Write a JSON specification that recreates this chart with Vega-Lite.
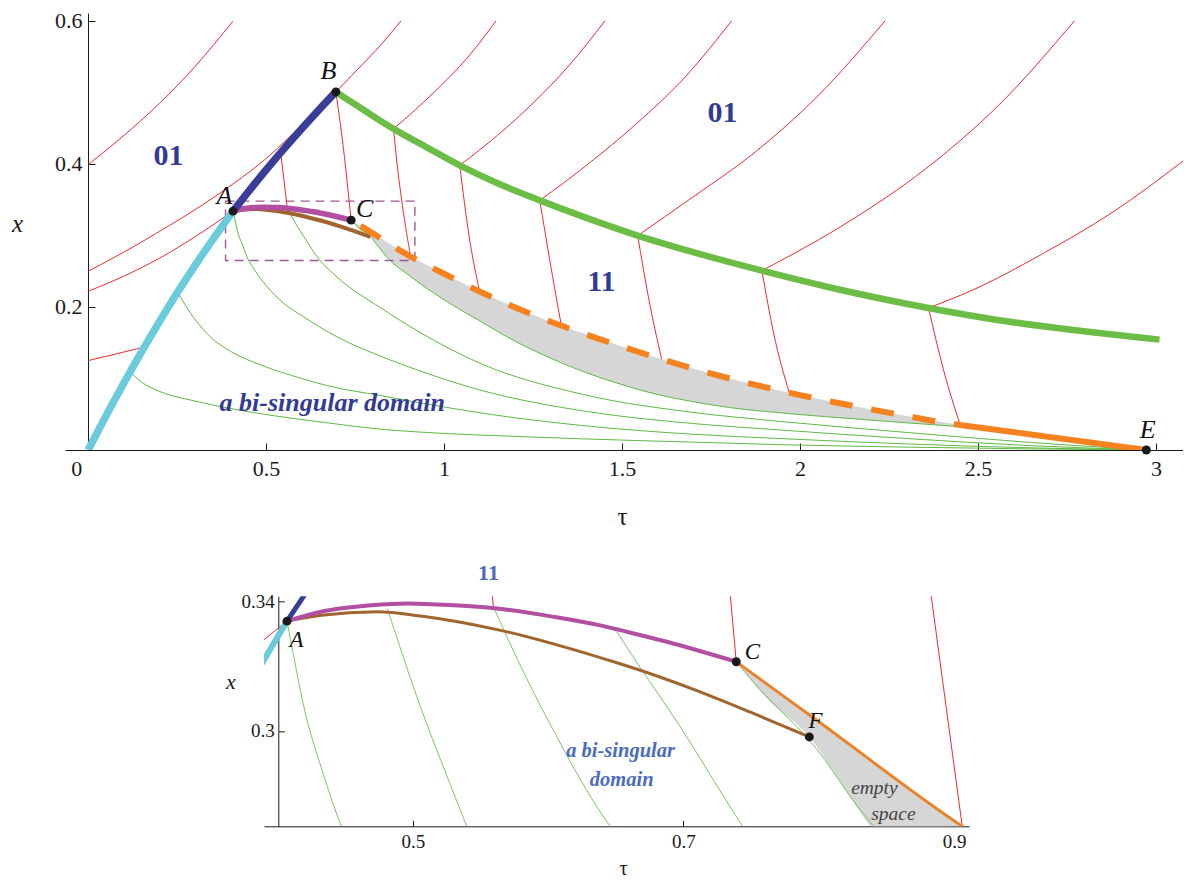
{
"$schema": "https://vega.github.io/schema/vega-lite/v6.json",
"background": "white",
"padding": {"left": 11, "top": 9, "right": 0, "bottom": 0},
"config": {
 "view": {"stroke": null},
 "axis": {"grid": false, "domainColor": "#1a1a1a", "tickColor": "#1a1a1a", "labelColor": "#1a1a1a", "titleColor": "#1a1a1a", "labelFont": "Liberation Serif, Times New Roman, serif", "titleFont": "Liberation Serif, Times New Roman, serif", "titleFontWeight": "normal", "labelFlush": false, "labelOverlap": false, "tickWidth": 1, "domainWidth": 1, "format": "~g"},
 "text": {"font": "Liberation Serif, Times New Roman, serif"},
 "line": {"interpolate": "monotone"},
 "area": {"interpolate": "monotone"}
},
"datasets": {
 "curves": [
  {"c":"cy","k":"cy","t":0,"x":0},{"c":"cy","k":"cy","t":0.05,"x":0.0476},{"c":"cy","k":"cy","t":0.1,"x":0.0933},{"c":"cy","k":"cy","t":0.15,"x":0.1372},{"c":"cy","k":"cy","t":0.2,"x":0.1792},{"c":"cy","k":"cy","t":0.25,"x":0.2194},{"c":"cy","k":"cy","t":0.3,"x":0.2577},{"c":"cy","k":"cy","t":0.35,"x":0.2942},{"c":"cy","k":"cy","t":0.39,"x":0.322},{"c":"cy","k":"cy","t":0.407,"x":0.334},
  {"c":"bl","k":"bl","t":0.407,"x":0.334},{"c":"bl","k":"bl","t":0.45,"x":0.3611},{"c":"bl","k":"bl","t":0.5,"x":0.3916},{"c":"bl","k":"bl","t":0.55,"x":0.421},{"c":"bl","k":"bl","t":0.6,"x":0.4493},{"c":"bl","k":"bl","t":0.65,"x":0.4765},{"c":"bl","k":"bl","t":0.696,"x":0.5006},
  {"c":"gt","k":"gt","t":0.696,"x":0.5006},{"c":"gt","k":"gt","t":0.78,"x":0.4735},{"c":"gt","k":"gt","t":0.858,"x":0.449},{"c":"gt","k":"gt","t":0.95,"x":0.4235},{"c":"gt","k":"gt","t":1.044,"x":0.398},{"c":"gt","k":"gt","t":1.15,"x":0.373},{"c":"gt","k":"gt","t":1.269,"x":0.349},{"c":"gt","k":"gt","t":1.4,"x":0.3245},{"c":"gt","k":"gt","t":1.544,"x":0.2997},{"c":"gt","k":"gt","t":1.7,"x":0.2765},{"c":"gt","k":"gt","t":1.893,"x":0.2508},{"c":"gt","k":"gt","t":2.1,"x":0.2255},{"c":"gt","k":"gt","t":2.361,"x":0.1986},{"c":"gt","k":"gt","t":2.55,"x":0.1822},{"c":"gt","k":"gt","t":2.75,"x":0.1688},{"c":"gt","k":"gt","t":3.01,"x":0.1543},
  {"c":"mg","k":"mg","t":0.407,"x":0.334},{"c":"mg","k":"mg","t":0.4323,"x":0.3369},{"c":"mg","k":"mg","t":0.4692,"x":0.3389},{"c":"mg","k":"mg","t":0.4963,"x":0.3395},{"c":"mg","k":"mg","t":0.5308,"x":0.3389},{"c":"mg","k":"mg","t":0.5603,"x":0.338},{"c":"mg","k":"mg","t":0.6046,"x":0.3353},{"c":"mg","k":"mg","t":0.6384,"x":0.3327},{"c":"mg","k":"mg","t":0.6532,"x":0.3312},{"c":"mg","k":"mg","t":0.6877,"x":0.3276},{"c":"mg","k":"mg","t":0.739,"x":0.3214},
  {"c":"br","k":"br","t":0.407,"x":0.334},{"c":"br","k":"br","t":0.4323,"x":0.3358},{"c":"br","k":"br","t":0.4737,"x":0.3369},{"c":"br","k":"br","t":0.5057,"x":0.3356},{"c":"br","k":"br","t":0.5673,"x":0.3309},{"c":"br","k":"br","t":0.6384,"x":0.3227},{"c":"br","k":"br","t":0.6532,"x":0.3208},{"c":"br","k":"br","t":0.7123,"x":0.3121},{"c":"br","k":"br","t":0.75,"x":0.3057},{"c":"br","k":"br","t":0.793,"x":0.2981},
  {"c":"or","k":"or","t":0.739,"x":0.3214},{"c":"or","k":"or","t":0.8,"x":0.3028},{"c":"or","k":"or","t":0.906,"x":0.2704},{"c":"or","k":"or","t":1.0,"x":0.2465},{"c":"or","k":"or","t":1.1,"x":0.2215},{"c":"or","k":"or","t":1.2,"x":0.1993},{"c":"or","k":"or","t":1.3,"x":0.1793},{"c":"or","k":"or","t":1.4,"x":0.1614},{"c":"or","k":"or","t":1.5,"x":0.1446},{"c":"or","k":"or","t":1.6,"x":0.1286},{"c":"or","k":"or","t":1.7,"x":0.1138},{"c":"or","k":"or","t":1.8,"x":0.1003},{"c":"or","k":"or","t":1.9,"x":0.088},{"c":"or","k":"or","t":2.0,"x":0.0767},{"c":"or","k":"or","t":2.1,"x":0.0664},{"c":"or","k":"or","t":2.2,"x":0.0568},{"c":"or","k":"or","t":2.3,"x":0.0475},{"c":"or","k":"or","t":2.4,"x":0.0385},{"c":"or","k":"or","t":2.45,"x":0.035},
  {"c":"os","k":"os","t":2.45,"x":0.035},{"c":"os","k":"os","t":2.973,"x":0},
  {"c":"r1","k":"red","t":0,"x":0.399},{"c":"r1","k":"red","t":0.109,"x":0.4434},{"c":"r1","k":"red","t":0.2,"x":0.4845},{"c":"r1","k":"red","t":0.3,"x":0.536},{"c":"r1","k":"red","t":0.4066,"x":0.5995},
  {"c":"r2","k":"red","t":0,"x":0.25},{"c":"r2","k":"red","t":0.1,"x":0.2765},{"c":"r2","k":"red","t":0.2,"x":0.3055},{"c":"r2","k":"red","t":0.3155,"x":0.3408},{"c":"r2","k":"red","t":0.407,"x":0.372},{"c":"r2","k":"red","t":0.5,"x":0.4075},{"c":"r2","k":"red","t":0.578,"x":0.4434},{"c":"r2","k":"red","t":0.65,"x":0.4775},{"c":"r2","k":"red","t":0.696,"x":0.5006},{"c":"r2","k":"red","t":0.75,"x":0.5285},{"c":"r2","k":"red","t":0.827,"x":0.569},{"c":"r2","k":"red","t":0.879,"x":0.6},
  {"c":"r3","k":"red","t":0,"x":0.2219},{"c":"r3","k":"red","t":0.1,"x":0.243},{"c":"r3","k":"red","t":0.2,"x":0.268},{"c":"r3","k":"red","t":0.3,"x":0.298},{"c":"r3","k":"red","t":0.407,"x":0.334},
  {"c":"r4","k":"red","t":0,"x":0.125},{"c":"r4","k":"red","t":0.08,"x":0.1345},{"c":"r4","k":"red","t":0.158,"x":0.144},
  {"c":"rs1","k":"red","t":0.541,"x":0.4158},{"c":"rs1","k":"red","t":0.55,"x":0.378},{"c":"rs1","k":"red","t":0.5596,"x":0.3381},
  {"c":"rs2","k":"red","t":0.696,"x":0.5006},{"c":"rs2","k":"red","t":0.72,"x":0.41},{"c":"rs2","k":"red","t":0.7346,"x":0.342},{"c":"rs2","k":"red","t":0.739,"x":0.3214},
  {"c":"rs3","k":"red","t":0.858,"x":0.449},{"c":"rs3","k":"red","t":0.868,"x":0.4},{"c":"rs3","k":"red","t":0.883,"x":0.342},{"c":"rs3","k":"red","t":0.906,"x":0.2704},
  {"c":"rs4","k":"red","t":1.044,"x":0.398},{"c":"rs4","k":"red","t":1.07,"x":0.3},{"c":"rs4","k":"red","t":1.1,"x":0.2215},
  {"c":"rs5","k":"red","t":1.269,"x":0.349},{"c":"rs5","k":"red","t":1.2967,"x":0.2662},{"c":"rs5","k":"red","t":1.3296,"x":0.1735},
  {"c":"rs6","k":"red","t":1.544,"x":0.2997},{"c":"rs6","k":"red","t":1.5737,"x":0.2149},{"c":"rs6","k":"red","t":1.6113,"x":0.1268},
  {"c":"rs7","k":"red","t":1.893,"x":0.2508},{"c":"rs7","k":"red","t":1.9258,"x":0.1636},{"c":"rs7","k":"red","t":1.9699,"x":0.0798},
  {"c":"rs8","k":"red","t":2.361,"x":0.1986},{"c":"rs8","k":"red","t":2.403,"x":0.1123},{"c":"rs8","k":"red","t":2.45,"x":0.035},
  {"c":"ru1","k":"red","t":0.858,"x":0.449},{"c":"ru1","k":"red","t":0.92,"x":0.476},{"c":"ru1","k":"red","t":0.99,"x":0.509},{"c":"ru1","k":"red","t":1.07,"x":0.551},{"c":"ru1","k":"red","t":1.146,"x":0.6},
  {"c":"ru2","k":"red","t":1.044,"x":0.398},{"c":"ru2","k":"red","t":1.15,"x":0.44},{"c":"ru2","k":"red","t":1.25,"x":0.485},{"c":"ru2","k":"red","t":1.35,"x":0.537},{"c":"ru2","k":"red","t":1.452,"x":0.6},
  {"c":"ru3","k":"red","t":1.269,"x":0.349},{"c":"ru3","k":"red","t":1.4,"x":0.398},{"c":"ru3","k":"red","t":1.54,"x":0.456},{"c":"ru3","k":"red","t":1.68,"x":0.523},{"c":"ru3","k":"red","t":1.808,"x":0.6},
  {"c":"ru4","k":"red","t":1.544,"x":0.2997},{"c":"ru4","k":"red","t":1.7,"x":0.354},{"c":"ru4","k":"red","t":1.865,"x":0.413},{"c":"ru4","k":"red","t":2.05,"x":0.495},{"c":"ru4","k":"red","t":2.239,"x":0.6},
  {"c":"ru5","k":"red","t":1.893,"x":0.2508},{"c":"ru5","k":"red","t":2.146,"x":0.322},{"c":"ru5","k":"red","t":2.35,"x":0.392},{"c":"ru5","k":"red","t":2.56,"x":0.483},{"c":"ru5","k":"red","t":2.771,"x":0.6},
  {"c":"ru6","k":"red","t":2.361,"x":0.1986},{"c":"ru6","k":"red","t":2.5,"x":0.227},{"c":"ru6","k":"red","t":2.68,"x":0.274},{"c":"ru6","k":"red","t":2.88,"x":0.333},{"c":"ru6","k":"red","t":3.076,"x":0.404},
  {"c":"g1","k":"gn","t":0.118,"x":0.1093},{"c":"g1","k":"gn","t":0.15,"x":0.095},{"c":"g1","k":"gn","t":0.2,"x":0.082},{"c":"g1","k":"gn","t":0.3,"x":0.0685},{"c":"g1","k":"gn","t":0.4,"x":0.058},{"c":"g1","k":"gn","t":0.5,"x":0.0495},{"c":"g1","k":"gn","t":0.672,"x":0.038},{"c":"g1","k":"gn","t":0.8225,"x":0.029},{"c":"g1","k":"gn","t":0.935,"x":0.025},{"c":"g1","k":"gn","t":1.2,"x":0.019},{"c":"g1","k":"gn","t":1.392,"x":0.0155},{"c":"g1","k":"gn","t":1.7,"x":0.011},{"c":"g1","k":"gn","t":1.944,"x":0.0075},{"c":"g1","k":"gn","t":2.3,"x":0.004},{"c":"g1","k":"gn","t":2.65,"x":0.0015},{"c":"g1","k":"gn","t":2.973,"x":0},
  {"c":"g2","k":"gn","t":0.2516,"x":0.2206},{"c":"g2","k":"gn","t":0.28,"x":0.197},{"c":"g2","k":"gn","t":0.3437,"x":0.158},{"c":"g2","k":"gn","t":0.4,"x":0.138},{"c":"g2","k":"gn","t":0.4845,"x":0.119},{"c":"g2","k":"gn","t":0.6,"x":0.1},{"c":"g2","k":"gn","t":0.672,"x":0.09},{"c":"g2","k":"gn","t":0.8225,"x":0.076},{"c":"g2","k":"gn","t":0.935,"x":0.0657},{"c":"g2","k":"gn","t":1.2,"x":0.045},{"c":"g2","k":"gn","t":1.392,"x":0.034},{"c":"g2","k":"gn","t":1.7,"x":0.022},{"c":"g2","k":"gn","t":1.944,"x":0.016},{"c":"g2","k":"gn","t":2.3,"x":0.0085},{"c":"g2","k":"gn","t":2.65,"x":0.003},{"c":"g2","k":"gn","t":2.973,"x":0},
  {"c":"g3","k":"gn","t":0.407,"x":0.334},{"c":"g3","k":"gn","t":0.4146,"x":0.3172},{"c":"g3","k":"gn","t":0.422,"x":0.3017},{"c":"g3","k":"gn","t":0.4343,"x":0.2862},{"c":"g3","k":"gn","t":0.4456,"x":0.2707},{"c":"g3","k":"gn","t":0.47,"x":0.25},{"c":"g3","k":"gn","t":0.5,"x":0.23},{"c":"g3","k":"gn","t":0.55,"x":0.205},{"c":"g3","k":"gn","t":0.6,"x":0.188},{"c":"g3","k":"gn","t":0.7,"x":0.158},{"c":"g3","k":"gn","t":0.8225,"x":0.131},{"c":"g3","k":"gn","t":0.935,"x":0.11},{"c":"g3","k":"gn","t":1.1,"x":0.084},{"c":"g3","k":"gn","t":1.392,"x":0.0545},{"c":"g3","k":"gn","t":1.7,"x":0.037},{"c":"g3","k":"gn","t":1.944,"x":0.028},{"c":"g3","k":"gn","t":2.3,"x":0.016},{"c":"g3","k":"gn","t":2.65,"x":0.006},{"c":"g3","k":"gn","t":2.973,"x":0},
  {"c":"g4","k":"gn","t":0.5599,"x":0.3381},{"c":"g4","k":"gn","t":0.5825,"x":0.317},{"c":"g4","k":"gn","t":0.6115,"x":0.294},{"c":"g4","k":"gn","t":0.6424,"x":0.2707},{"c":"g4","k":"gn","t":0.7,"x":0.2415},{"c":"g4","k":"gn","t":0.8225,"x":0.1986},{"c":"g4","k":"gn","t":0.935,"x":0.1636},{"c":"g4","k":"gn","t":1.1,"x":0.1215},{"c":"g4","k":"gn","t":1.392,"x":0.0775},{"c":"g4","k":"gn","t":1.7,"x":0.0525},{"c":"g4","k":"gn","t":1.944,"x":0.04},{"c":"g4","k":"gn","t":2.3,"x":0.0245},{"c":"g4","k":"gn","t":2.65,"x":0.0105},{"c":"g4","k":"gn","t":2.973,"x":0},
  {"c":"g5","k":"gn","t":0.739,"x":0.3214},{"c":"g5","k":"gn","t":0.7616,"x":0.31},{"c":"g5","k":"gn","t":0.793,"x":0.2981},{"c":"g5","k":"gn","t":0.8158,"x":0.2842},{"c":"g5","k":"gn","t":0.838,"x":0.2704},{"c":"g5","k":"gn","t":0.906,"x":0.2425},{"c":"g5","k":"gn","t":1.0,"x":0.21},{"c":"g5","k":"gn","t":1.1,"x":0.1805},{"c":"g5","k":"gn","t":1.2,"x":0.152},{"c":"g5","k":"gn","t":1.3,"x":0.1283},{"c":"g5","k":"gn","t":1.4,"x":0.108},{"c":"g5","k":"gn","t":1.5,"x":0.0914},{"c":"g5","k":"gn","t":1.6,"x":0.0775},{"c":"g5","k":"gn","t":1.7,"x":0.0675},{"c":"g5","k":"gn","t":1.8,"x":0.0595},{"c":"g5","k":"gn","t":1.944,"x":0.052},{"c":"g5","k":"gn","t":2.1,"x":0.0455},{"c":"g5","k":"gn","t":2.3,"x":0.038},{"c":"g5","k":"gn","t":2.45,"x":0.0325},{"c":"g5","k":"gn","t":2.7,"x":0.0175},{"c":"g5","k":"gn","t":2.973,"x":0},
  {"c":"b2","k":"gb","t":0.4811,"x":0.3379},{"c":"b2","k":"gb","t":0.4933,"x":0.3224},{"c":"b2","k":"gb","t":0.5057,"x":0.3069},{"c":"b2","k":"gb","t":0.523,"x":0.2883},{"c":"b2","k":"gb","t":0.5395,"x":0.2707},{"c":"b2","k":"gb","t":0.544,"x":0.266},
  {"c":"b4","k":"gb","t":0.6508,"x":0.3307},{"c":"b4","k":"gb","t":0.6715,"x":0.3172},{"c":"b4","k":"gb","t":0.6976,"x":0.3017},{"c":"b4","k":"gb","t":0.7197,"x":0.2862},{"c":"b4","k":"gb","t":0.7432,"x":0.2707},{"c":"b4","k":"gb","t":0.748,"x":0.2675}
 ],
 "gray": [
  {"t":0.739,"x":0.3214,"x2":0.3214},{"t":0.7616,"x":0.3145,"x2":0.31},{"t":0.793,"x":0.305,"x2":0.2981},{"t":0.8158,"x":0.298,"x2":0.2842},{"t":0.838,"x":0.2912,"x2":0.2704},{"t":0.906,"x":0.2704,"x2":0.2425},{"t":1.0,"x":0.2465,"x2":0.21},{"t":1.1,"x":0.2215,"x2":0.1805},{"t":1.2,"x":0.1993,"x2":0.152},{"t":1.3,"x":0.1793,"x2":0.1283},{"t":1.4,"x":0.1614,"x2":0.108},{"t":1.5,"x":0.1446,"x2":0.0914},{"t":1.6,"x":0.1286,"x2":0.0775},{"t":1.7,"x":0.1138,"x2":0.0675},{"t":1.8,"x":0.1003,"x2":0.0595},{"t":1.944,"x":0.083,"x2":0.052},{"t":2.1,"x":0.0664,"x2":0.0455},{"t":2.3,"x":0.0475,"x2":0.038},{"t":2.45,"x":0.035,"x2":0.0325}
 ],
 "box": [{"t":0.386,"t2":0.918,"x":0.348,"x2":0.265}],
 "pts": [
  {"p":"t","t":0.407,"x":0.334},{"p":"t","t":0.696,"x":0.5006},{"p":"t","t":0.739,"x":0.3214},{"p":"t","t":2.973,"x":0},
  {"p":"b","t":0.407,"x":0.334},{"p":"b","t":0.739,"x":0.3214},{"p":"b","t":0.793,"x":0.2981}
 ],
 "labels": [
  {"p":"t","g":"reg","s":"01","t":0.2256,"x":0.4112},
  {"p":"t","g":"reg","s":"01","t":1.782,"x":0.4713},
  {"p":"t","g":"reg","s":"11","t":1.442,"x":0.235},
  {"p":"t","g":"dom","s":"a bi-singular domain","t":0.686,"x":0.0657},
  {"p":"t","g":"pt","s":"A","t":0.383,"x":0.355},
  {"p":"t","g":"pt","s":"B","t":0.675,"x":0.53},
  {"p":"t","g":"pt","s":"C","t":0.777,"x":0.337},
  {"p":"t","g":"pt","s":"E","t":2.977,"x":0.028},
  {"p":"b","g":"pt","s":"A","t":0.414,"x":0.328},
  {"p":"b","g":"pt","s":"C","t":0.751,"x":0.3243},
  {"p":"b","g":"pt","s":"F","t":0.7975,"x":0.3029},
  {"p":"b","g":"reg","s":"11","t":0.5559,"x":0.3488},
  {"p":"b","g":"dom","s":"a bi-singular","t":0.6535,"x":0.2936},
  {"p":"b","g":"dom","s":"domain","t":0.6543,"x":0.2849},
  {"p":"b","g":"emp","s":"empty","t":0.8411,"x":0.2822},
  {"p":"b","g":"emp","s":"space","t":0.8551,"x":0.2741}
 ]
},
"bounds": "flush",
"spacing": 146.3,
"vconcat": [
 {
  "width": 1118, "height": 437,
  "encoding": {
   "x": {"field": "t", "type": "quantitative", "scale": {"domain": [-0.065, 3.076], "nice": false, "zero": false},
    "axis": {"values": [0, 0.5, 1, 1.5, 2, 2.5, 3], "title": "τ", "labelFontSize": 22, "tickSize": -7, "labelPadding": 15, "titleFontSize": 25, "titleX": 557, "titleY": 66, "titleBaseline": "middle", "titleAlign": "center", "labelOffset": {"condition": {"test": "datum.value == 0", "value": -12}, "value": 0}}},
   "y": {"field": "x", "type": "quantitative", "scale": {"domain": [0, 0.611], "nice": false, "zero": false},
    "axis": {"values": [0.2, 0.4, 0.6], "title": "x", "offset": -23, "tickSize": -7, "labelPadding": 13, "labelFontSize": 22, "titleAngle": 0, "titleX": -71, "titleY": 210, "titleFontStyle": "italic", "titleFontSize": 25, "titleBaseline": "middle", "titleAlign": "center"}}
  },
  "layer": [
   {"data": {"name": "gray"}, "mark": {"type": "area", "color": "#d6d6d6", "clip": true}, "encoding": {"y2": {"field": "x2"}}},
   {"data": {"name": "box"}, "mark": {"type": "rect", "filled": false, "stroke": "#9c5a90", "strokeWidth": 1.4, "strokeDash": [9, 6]}, "encoding": {"x2": {"field": "t2"}, "y2": {"field": "x2"}}},
   {"data": {"name": "curves"}, "transform": [{"filter": "datum.k == 'red'"}], "mark": {"type": "line", "color": "#ef2b2d", "strokeWidth": 1, "clip": true}, "encoding": {"detail": {"field": "c"}, "order": {"field": "t"}}},
   {"data": {"name": "curves"}, "transform": [{"filter": "datum.k == 'gn'"}], "mark": {"type": "line", "color": "#5fb844", "strokeWidth": 1, "clip": true}, "encoding": {"detail": {"field": "c"}, "order": {"field": "t"}}},
   {"data": {"name": "curves"}, "transform": [{"filter": "datum.k == 'cy'"}], "mark": {"type": "line", "color": "#6acbdc", "strokeWidth": 7.5, "clip": true}, "encoding": {"order": {"field": "t"}}},
   {"data": {"name": "curves"}, "transform": [{"filter": "datum.k == 'gt'"}], "mark": {"type": "line", "color": "#6bbd45", "strokeWidth": 6.5, "clip": true}, "encoding": {"order": {"field": "t"}}},
   {"data": {"name": "curves"}, "transform": [{"filter": "datum.k == 'br'"}], "mark": {"type": "line", "color": "#a0652f", "strokeWidth": 4, "clip": true}, "encoding": {"order": {"field": "t"}}},
   {"data": {"name": "curves"}, "transform": [{"filter": "datum.k == 'mg'"}], "mark": {"type": "line", "color": "#b24fa2", "strokeWidth": 5.5, "clip": true}, "encoding": {"order": {"field": "t"}}},
   {"data": {"name": "curves"}, "transform": [{"filter": "datum.k == 'bl'"}], "mark": {"type": "line", "color": "#383e98", "strokeWidth": 7.5, "clip": true}, "encoding": {"order": {"field": "t"}}},
   {"data": {"name": "curves"}, "transform": [{"filter": "datum.k == 'or'"}], "mark": {"type": "line", "color": "#f5821f", "strokeWidth": 6, "strokeDash": [23, 19], "strokeDashOffset": 31, "clip": true}, "encoding": {"order": {"field": "t"}}},
   {"data": {"name": "curves"}, "transform": [{"filter": "datum.k == 'os'"}], "mark": {"type": "line", "color": "#f5821f", "strokeWidth": 6, "clip": true}, "encoding": {"order": {"field": "t"}}},
   {"data": {"name": "pts"}, "transform": [{"filter": "datum.p == 't'"}], "mark": {"type": "circle", "color": "#1a1a1a", "size": 80, "opacity": 1}},
   {"data": {"name": "labels"}, "transform": [{"filter": "datum.p == 't' && datum.g == 'reg'"}], "mark": {"type": "text", "fontSize": 30, "fontWeight": "bold", "color": "#333a94", "baseline": "middle", "align": "center"}, "encoding": {"text": {"field": "s"}}},
   {"data": {"name": "labels"}, "transform": [{"filter": "datum.p == 't' && datum.g == 'dom'"}], "mark": {"type": "text", "fontSize": 26, "fontWeight": "bold", "fontStyle": "italic", "color": "#333a94", "baseline": "middle", "align": "center"}, "encoding": {"text": {"field": "s"}}},
   {"data": {"name": "labels"}, "transform": [{"filter": "datum.p == 't' && datum.g == 'pt'"}], "mark": {"type": "text", "fontSize": 26, "fontStyle": "italic", "color": "#111111", "baseline": "middle", "align": "center"}, "encoding": {"text": {"field": "s"}}}
  ]
 },
 {
  "bounds": "flush",
  "spacing": 0,
  "hconcat": [
   {"width": 198.7, "height": 230, "data": {"values": [{"a": 1}]}, "mark": {"type": "point", "opacity": 0}},
   {
    "width": 705, "height": 230,
    "encoding": {
     "x": {"field": "t", "type": "quantitative", "scale": {"domain": [0.39, 0.911], "nice": false, "zero": false},
      "axis": {"values": [0.5, 0.7, 0.9], "title": "τ", "labelFontSize": 19, "tickSize": -6, "labelPadding": 12, "titleFontSize": 20, "titleX": 359, "titleY": 42, "titleBaseline": "middle", "titleAlign": "center"}},
     "y": {"field": "x", "type": "quantitative", "scale": {"domain": [0.2704, 0.3417], "nice": false, "zero": false},
      "axis": {"values": [0.3, 0.34], "title": "x", "offset": -14.3, "tickSize": -6, "labelPadding": 10, "labelFontSize": 19, "titleAngle": 0, "titleX": -48, "titleY": 85, "titleFontStyle": "italic", "titleFontSize": 22, "titleBaseline": "middle", "titleAlign": "center"}}
    },
    "layer": [
     {"data": {"name": "gray"}, "mark": {"type": "area", "color": "#d6d6d6", "clip": true}, "encoding": {"y2": {"field": "x2"}}},
     {"data": {"name": "curves"}, "transform": [{"filter": "datum.k == 'red'"}], "mark": {"type": "line", "color": "#ef2b2d", "strokeWidth": 1, "clip": true, "interpolate": "linear"}, "encoding": {"detail": {"field": "c"}, "order": {"field": "t"}}},
     {"data": {"name": "curves"}, "transform": [{"filter": "datum.k == 'gn' || datum.k == 'gb'"}], "mark": {"type": "line", "color": "#6cc050", "strokeWidth": 0.9, "clip": true, "interpolate": "basis"}, "encoding": {"detail": {"field": "c"}, "order": {"field": "t"}}},
     {"data": {"name": "curves"}, "transform": [{"filter": "datum.k == 'cy'"}], "mark": {"type": "line", "color": "#6acbdc", "strokeWidth": 6, "clip": true}, "encoding": {"order": {"field": "t"}}},
     {"data": {"name": "curves"}, "transform": [{"filter": "datum.k == 'br'"}], "mark": {"type": "line", "color": "#a0652f", "strokeWidth": 3, "clip": true}, "encoding": {"order": {"field": "t"}}},
     {"data": {"name": "curves"}, "transform": [{"filter": "datum.k == 'mg'"}], "mark": {"type": "line", "color": "#b24fa2", "strokeWidth": 4, "clip": true}, "encoding": {"order": {"field": "t"}}},
     {"data": {"name": "curves"}, "transform": [{"filter": "datum.k == 'bl'"}], "mark": {"type": "line", "color": "#383e98", "strokeWidth": 5, "clip": true}, "encoding": {"order": {"field": "t"}}},
     {"data": {"name": "curves"}, "transform": [{"filter": "datum.k == 'or'"}], "mark": {"type": "line", "color": "#e8852a", "strokeWidth": 3, "clip": true}, "encoding": {"order": {"field": "t"}}},
     {"data": {"name": "pts"}, "transform": [{"filter": "datum.p == 'b'"}], "mark": {"type": "circle", "color": "#1a1a1a", "size": 80, "opacity": 1}},
     {"data": {"name": "labels"}, "transform": [{"filter": "datum.p == 'b' && datum.g == 'reg'"}], "mark": {"type": "text", "fontSize": 22, "fontWeight": "bold", "color": "#4b6bbf", "baseline": "middle", "align": "center"}, "encoding": {"text": {"field": "s"}}},
     {"data": {"name": "labels"}, "transform": [{"filter": "datum.p == 'b' && datum.g == 'dom'"}], "mark": {"type": "text", "fontSize": 20.5, "fontWeight": "bold", "fontStyle": "italic", "color": "#4b6bbf", "baseline": "middle", "align": "center"}, "encoding": {"text": {"field": "s"}}},
     {"data": {"name": "labels"}, "transform": [{"filter": "datum.p == 'b' && datum.g == 'pt'"}], "mark": {"type": "text", "fontSize": 23, "fontStyle": "italic", "color": "#111111", "baseline": "middle", "align": "center"}, "encoding": {"text": {"field": "s"}}},
     {"data": {"name": "labels"}, "transform": [{"filter": "datum.p == 'b' && datum.g == 'emp'"}], "mark": {"type": "text", "fontSize": 19.5, "fontStyle": "italic", "color": "#444444", "baseline": "middle", "align": "center"}, "encoding": {"text": {"field": "s"}}}
    ]
   }
  ]
 }
]
}
